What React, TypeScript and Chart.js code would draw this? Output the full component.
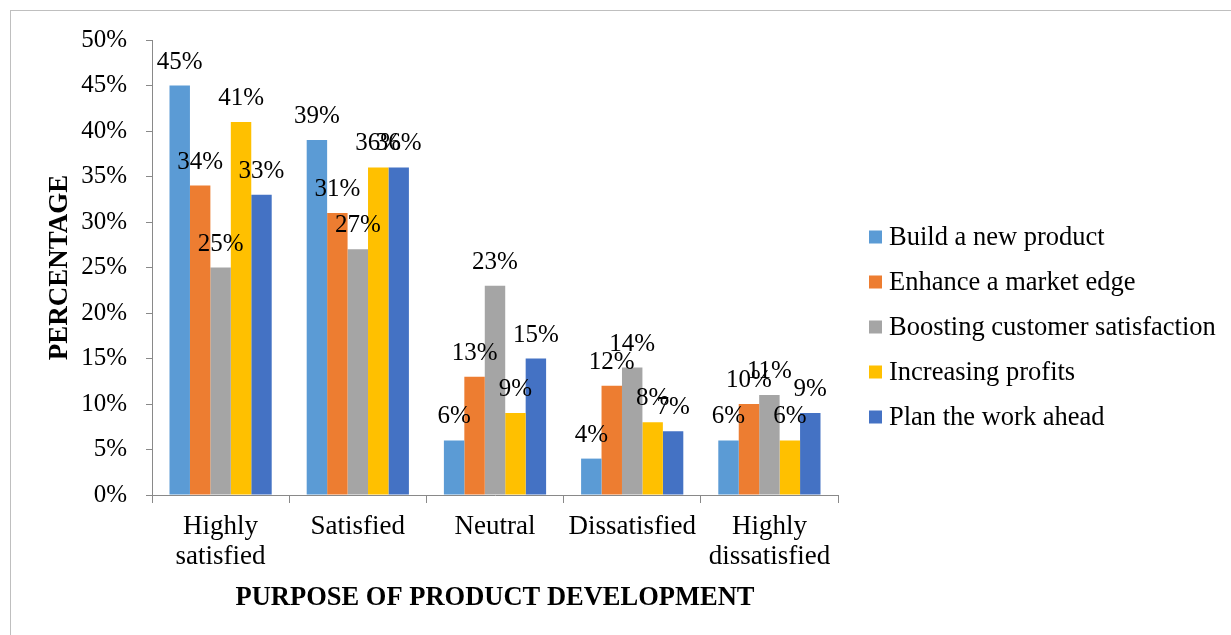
import { useEffect, useRef } from "react";
import { Chart, registerables } from "chart.js";

Chart.register(...registerables);

const categories: (string | string[])[] = [
  ["Highly", "satisfied"],
  "Satisfied",
  "Neutral",
  "Dissatisfied",
  ["Highly", "dissatisfied"],
];

const seriesNames = [
  "Build a new product",
  "Enhance a market edge",
  "Boosting customer satisfaction",
  "Increasing profits",
  "Plan the work ahead",
];

const buildNewProduct = [45, 39, 6, 4, 6];
const enhanceMarketEdge = [34, 31, 13, 12, 10];
const boostingSatisfaction = [25, 27, 23, 14, 11];
const increasingProfits = [41, 36, 9, 8, 6];
const planWorkAhead = [33, 36, 15, 7, 9];

const seriesColors = ["#5B9BD5", "#ED7D31", "#A5A5A5", "#FFC000", "#4472C4"];

const yMin = 0;
const yMax = 50;
const yStep = 5;

const xTitle = "PURPOSE OF PRODUCT DEVELOPMENT";
const yTitle = "PERCENTAGE";

const FONT = '"Liberation Serif", "Times New Roman", serif';
const AXIS_COLOR = "#898989";

const labelsPlugin = {
  id: "valueLabels",
  afterDatasetsDraw(chart: any) {
    const ctx = chart.ctx;
    ctx.save();
    ctx.font = `25px ${FONT}`;
    ctx.fillStyle = "#000";
    ctx.textAlign = "center";
    ctx.textBaseline = "alphabetic";
    chart.data.datasets.forEach((ds: any, i: number) => {
      const meta = chart.getDatasetMeta(i);
      meta.data.forEach((el: any, j: number) => {
        ctx.fillText(`${ds.data[j]}%`, el.x, el.y - 17);
      });
    });
    ctx.restore();
  },
};

const legendPlugin = {
  id: "sideLegend",
  afterDraw(chart: any) {
    const ctx = chart.ctx;
    ctx.save();
    ctx.font = `26.5px ${FONT}`;
    ctx.textAlign = "left";
    ctx.textBaseline = "middle";
    const boxX = 869;
    const textX = 889;
    const startY = 237;
    const step = 45;
    chart.data.datasets.forEach((ds: any, i: number) => {
      const cy = startY + i * step;
      ctx.fillStyle = ds.backgroundColor;
      ctx.fillRect(boxX, cy - 6.5, 13, 13);
      ctx.fillStyle = "#000";
      ctx.fillText(ds.label, textX, cy + 1);
    });
    ctx.restore();
  },
};

export default function App() {
  const canvasRef = useRef<HTMLCanvasElement | null>(null);

  useEffect(() => {
    if (!canvasRef.current) return;
    const seriesData = [
      buildNewProduct,
      enhanceMarketEdge,
      boostingSatisfaction,
      increasingProfits,
      planWorkAhead,
    ];
    const chart = new Chart(canvasRef.current, {
      type: "bar",
      data: {
        labels: categories,
        datasets: seriesData.map((d, i) => ({
          label: seriesNames[i],
          data: d,
          backgroundColor: seriesColors[i],
          borderWidth: 0,
          categoryPercentage: 0.745,
          barPercentage: 1,
        })),
      },
      options: {
        responsive: false,
        animation: false,
        devicePixelRatio: 1,
        layout: { padding: { left: 0, top: 40, right: 393, bottom: 0 } },
        plugins: {
          legend: { display: false },
          tooltip: { enabled: false },
          title: { display: false },
        },
        scales: {
          x: {
            offset: true,
            grid: {
              display: true,
              offset: true,
              drawOnChartArea: false,
              drawTicks: true,
              tickLength: 8,
              color: AXIS_COLOR,
            },
            border: { display: true, color: AXIS_COLOR, width: 1 },
            ticks: {
              color: "#000",
              font: { family: FONT, size: 27, lineHeight: 1.11 },
              padding: 9,
              maxRotation: 0,
              autoSkip: false,
            },
            title: {
              display: true,
              text: xTitle,
              color: "#000",
              font: { family: FONT, size: 26.5, weight: "bold", lineHeight: 1.2 },
              padding: { top: 0, bottom: 21 },
            },
            afterFit(scale: any) {
              scale.height = 140;
            },
          },
          y: {
            min: yMin,
            max: yMax,
            grid: {
              display: true,
              drawOnChartArea: false,
              drawTicks: true,
              tickLength: 6,
              color: AXIS_COLOR,
            },
            border: { display: true, color: AXIS_COLOR, width: 1 },
            ticks: {
              stepSize: yStep,
              color: "#000",
              font: { family: FONT, size: 25 },
              padding: 19,
              callback: (v: any) => `${v}%`,
            },
            title: {
              display: true,
              text: yTitle,
              color: "#000",
              font: { family: FONT, size: 27, weight: "bold", lineHeight: 1.2 },
              padding: { top: 44, bottom: 0 },
            },
            afterFit(scale: any) {
              scale.width = 152;
            },
          },
        },
      },
      plugins: [labelsPlugin, legendPlugin],
    });
    return () => chart.destroy();
  }, []);

  return (
    <div
      style={{
        position: "fixed",
        left: 0,
        top: 0,
        width: 1231,
        height: 635,
        background: "#fff",
        overflow: "hidden",
      }}
    >
      <div
        style={{
          position: "absolute",
          left: 10,
          top: 10,
          width: 1300,
          height: 700,
          border: "1px solid #BFBFBF",
        }}
      />
      <canvas
        ref={canvasRef}
        width={1231}
        height={635}
        style={{ position: "absolute", left: 0, top: 0, width: 1231, height: 635 }}
      />
    </div>
  );
}
